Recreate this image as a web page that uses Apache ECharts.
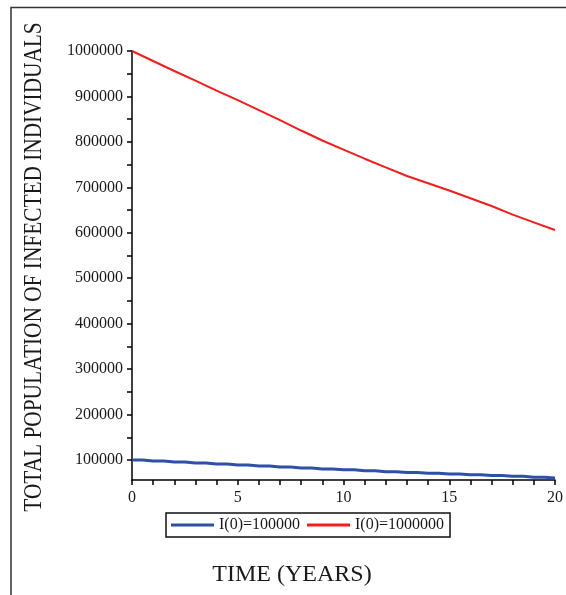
<!DOCTYPE html>
<html>
<head>
<meta charset="utf-8">
<script src="https://cdn.jsdelivr.net/npm/echarts@6/dist/echarts.min.js"></script>
<style>
	html, body { margin: 0; padding: 0; background: #fff; }
	#chart { width: 566px; height: 595px; }
</style>
</head>
<body>
<div id="chart"></div>
<script>
// time axis, years
var years = [0, 1, 2, 3, 4, 5, 6, 7, 8, 9, 10, 11, 12, 13, 14, 15, 16, 17, 18, 19, 20]
// I(0)=100000
var lowStart = [100000, 97800, 95600, 93500, 91300, 89200, 87000, 84800, 82500, 80300, 78300,
	76300, 74400, 72500, 70900, 69300, 67600, 65900, 64000, 62300, 60600]
// I(0)=1000000
var highStart = [1000000, 978000, 956000, 935000, 913000, 892000, 870000, 848000, 825000, 803000, 783000,
	763000, 744000, 725000, 709000, 693000, 676000, 659000, 640000, 623000, 606000]
var yLabels = [100000, 200000, 300000, 400000, 500000, 600000, 700000, 800000, 900000, 1000000]
var yTicks = [100000, 150000, 200000, 250000, 300000, 350000, 400000, 450000, 500000, 550000,
	600000, 650000, 700000, 750000, 800000, 850000, 900000, 950000, 1000000]
var seriesNames = ['I(0)=100000', 'I(0)=1000000']

var serif = '"Liberation Serif", "DejaVu Serif", serif'
var ink = '#1a1a1a'

var chart = echarts.init(document.getElementById('chart'))
chart.setOption({
	animation: false,
	grid: { left: 132, right: 10, top: 51, bottom: 115 },
	legend: {
		data: [
			{ name: seriesNames[0], icon: 'rect' },
			{ name: seriesNames[1], icon: 'rect' }
		],
		left: 166,
		top: 513,
		orient: 'horizontal',
		padding: [4, 6, 4, 5],
		itemGap: 7,
		itemWidth: 43,
		itemHeight: 3,
		borderColor: '#111',
		borderWidth: 1.5,
		textStyle: { fontFamily: serif, fontSize: 16, color: ink }
	},
	xAxis: {
		type: 'value',
		min: 0,
		max: 20,
		interval: 5,
		axisLine: { onZero: false, lineStyle: { color: '#000', width: 1.5 } },
		axisTick: { show: true, length: 5, lineStyle: { color: '#000', width: 1.5 } },
		minorTick: { show: true, splitNumber: 5, length: 5, lineStyle: { color: '#000', width: 1.5 } },
		axisLabel: { fontFamily: serif, fontSize: 16, color: ink, margin: 10 },
		splitLine: { show: false }
	},
	yAxis: {
		type: 'value',
		min: 56000,
		max: 1000000,
		axisLine: { show: true, lineStyle: { color: '#000', width: 1.5 } },
		axisTick: { show: true, length: 5, customValues: yTicks, lineStyle: { color: '#000', width: 1.5 } },
		axisLabel: {
			fontFamily: serif,
			fontSize: 16,
			color: ink,
			margin: 9,
			customValues: yLabels,
			formatter: function (v) { return String(v) }
		},
		splitLine: { show: false }
	},
	graphic: [
		{
			type: 'polyline',
			shape: { points: [[11, 595], [11, 7.5], [566, 7.5]] },
			style: { stroke: '#333', lineWidth: 1.5, fill: null },
			silent: true
		},
		{
			type: 'text',
			x: 34,
			y: 267,
			rotation: Math.PI / 2,
			scaleX: 0.82,
			style: {
				text: 'TOTAL POPULATION OF INFECTED INDIVIDUALS',
				font: '26px ' + serif,
				fill: ink,
				align: 'center',
				verticalAlign: 'middle'
			}
		},
		{
			type: 'text',
			x: 292,
			y: 575,
			style: {
				text: 'TIME (YEARS)',
				font: '24px ' + serif,
				fill: ink,
				align: 'center',
				verticalAlign: 'middle'
			}
		}
	],
	series: [
		{
			name: seriesNames[0],
			type: 'line',
			step: 'middle',
			symbol: 'none',
			color: '#2f4fa8',
			lineStyle: { width: 3, color: '#2f4fa8' },
			data: years.map(function (t, i) { return [t, lowStart[i]] })
		},
		{
			name: seriesNames[1],
			type: 'line',
			symbol: 'none',
			color: '#f41d1d',
			lineStyle: { width: 2, color: '#f41d1d' },
			data: years.map(function (t, i) { return [t, highStart[i]] })
		}
	]
})
</script>
</body>
</html>
